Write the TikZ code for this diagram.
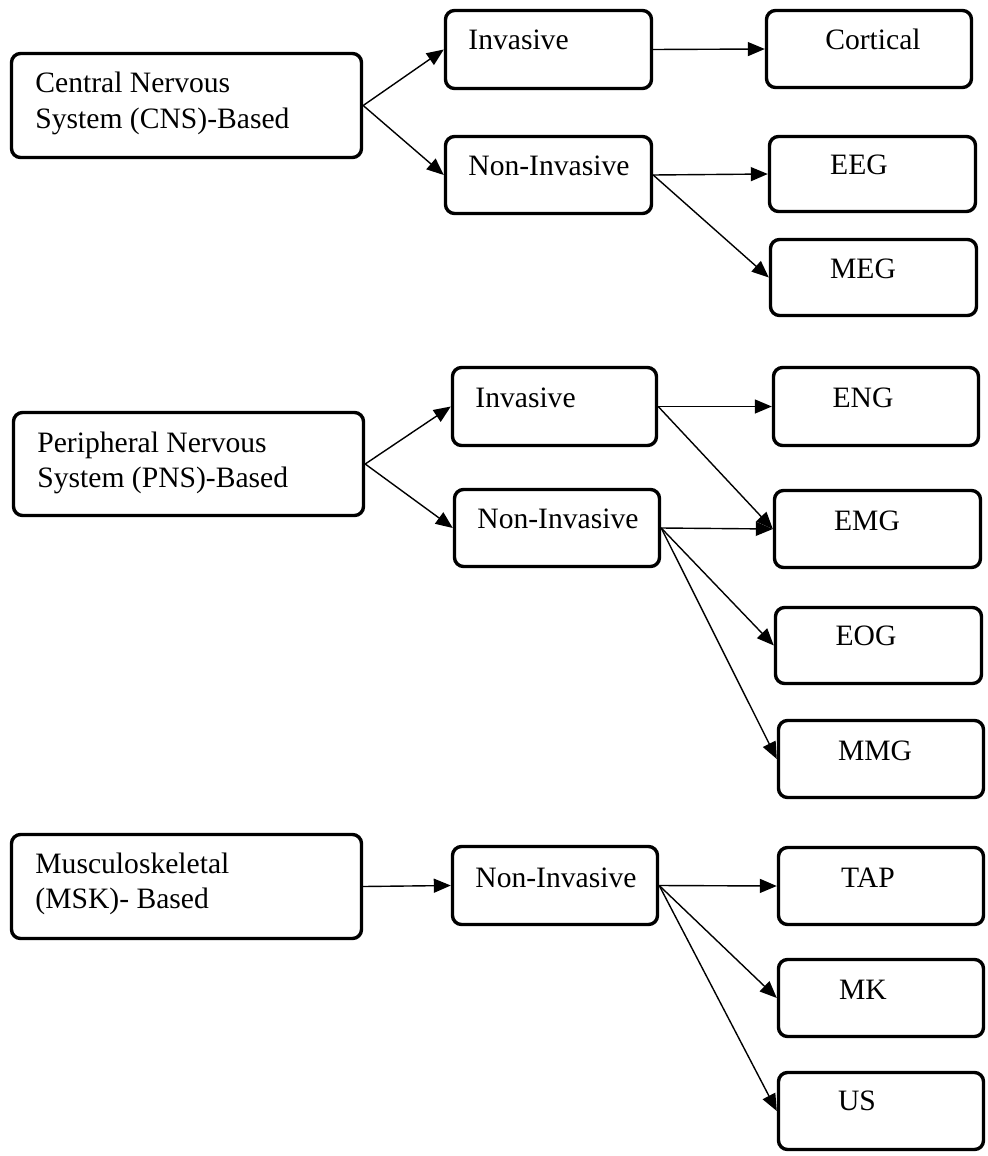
\documentclass[tikz,border=0pt]{standalone}
\usepackage{fontspec}
\setmainfont{Liberation Serif}
\usetikzlibrary{arrows.meta}
\begin{document}
\begin{tikzpicture}[x=0.5pt,y=-0.5pt,
  box/.style 2 args={draw, line width=1.7pt, rounded corners=4.5pt,
    minimum width=#1, minimum height=#2, inner sep=0pt},
  lbl/.style={inner sep=0pt, font=\fontsize{14.8}{17.5}\selectfont},
  arr/.style={line width=0.7pt, -{Triangle[length=8.5pt,width=7pt]}}]
\useasboundingbox (0,0) rectangle (988,1156);

% ---- CNS group ----
\node[box={175pt}{52pt}]     (cns)  at (186.5,105.5) {};
\node[box={103pt}{39pt}]     (invc) at (548.5,49.5)  {};
\node[box={102.5pt}{38.5pt}] (cort) at (869,49)      {};
\node[box={103pt}{38.5pt}]   (nic)  at (548.5,175)   {};
\node[box={103pt}{37.5pt}]   (eeg)  at (872.5,174)   {};
\node[box={103pt}{38pt}]     (meg)  at (873.5,277.5) {};

\node[lbl, anchor=base west] (cnsA) at (35,93)  {Central Nervous};
\node[lbl, anchor=base west] (cnsB) at (35,128) {System (CNS)-Based};
\node[lbl, anchor=base west] (invcT) at (468,50)  {Invasive};
\node[lbl, anchor=base west] (nicT)  at (468,176) {Non-Invasive};
\node[lbl, anchor=base] (cortT) at (873,50)  {Cortical};
\node[lbl, anchor=base] (eegT)  at (859,175) {EEG};
\node[lbl, anchor=base] (megT)  at (863,278) {MEG};

\draw[arr] (cns.east) -- (invc.west);
\draw[arr] (cns.east) -- (nic.west);
\draw[arr] (invc.east) -- (cort.west);
\draw[arr] (nic.east) -- (eeg.west);
\draw[arr] (nic.east) -- (meg.west);

% ---- PNS group ----
\node[box={175pt}{51.5pt}]   (pns)  at (188.5,464)   {};
\node[box={102pt}{39pt}]     (invp) at (554.5,406.5) {};
\node[box={102.5pt}{39pt}]   (eng)  at (876,406.5)   {};
\node[box={102.5pt}{38.5pt}] (nip)  at (557,528)     {};
\node[box={103pt}{38.5pt}]   (emg)  at (877.5,529)   {};
\node[box={103pt}{38pt}]     (eog)  at (878.5,645.5) {};
\node[box={102.5pt}{38.5pt}] (mmg)  at (881,759)     {};

\node[lbl, anchor=base west] (pnsA) at (37,452) {Peripheral Nervous};
\node[lbl, anchor=base west] (pnsB) at (37,487) {System (PNS)-Based};
\node[lbl, anchor=base west] (invpT) at (475,407) {Invasive};
\node[lbl, anchor=base west] (nipT)  at (477,528) {Non-Invasive};
\node[lbl, anchor=base] (engT) at (863,407) {ENG};
\node[lbl, anchor=base] (emgT) at (867,530) {EMG};
\node[lbl, anchor=base] (eogT) at (866,645) {EOG};
\node[lbl, anchor=base] (mmgT) at (875,760) {MMG};

\draw[arr] (pns.east) -- (invp.west);
\draw[arr] (pns.east) -- (nip.west);
\draw[arr] (invp.east) -- (eng.west);
\draw[arr] (invp.east) -- (emg.west);
\draw[arr] (nip.east) -- (emg.west);
\draw[arr] (nip.east) -- (eog.west);
\draw[arr] (nip.east) -- (mmg.west);

% ---- MSK group ----
\node[box={175pt}{52pt}]     (msk)  at (186.5,886.5) {};
\node[box={102.5pt}{39pt}]   (nim)  at (555,885.5)   {};
\node[box={102.5pt}{38.5pt}] (tap)  at (881,886)     {};
\node[box={102.5pt}{38.5pt}] (mk)   at (881,998)     {};
\node[box={102.5pt}{38.5pt}] (us)   at (881,1111)    {};

\node[lbl, anchor=base west] (mskA) at (35,873) {Musculoskeletal};
\node[lbl, anchor=base west] (mskB) at (35,908) {(MSK)- Based};
\node[lbl, anchor=base west] (nimT) at (475,887) {Non-Invasive};
\node[lbl, anchor=base] (tapT) at (868,887)  {TAP};
\node[lbl, anchor=base] (mkT)  at (863,999)  {MK};
\node[lbl, anchor=base] (usT)  at (857,1110) {US};

\draw[arr] (msk.east) -- (nim.west);
\draw[arr] (nim.east) -- (tap.west);
\draw[arr] (nim.east) -- (mk.west);
\draw[arr] (nim.east) -- (us.west);
\end{tikzpicture}
\end{document}
